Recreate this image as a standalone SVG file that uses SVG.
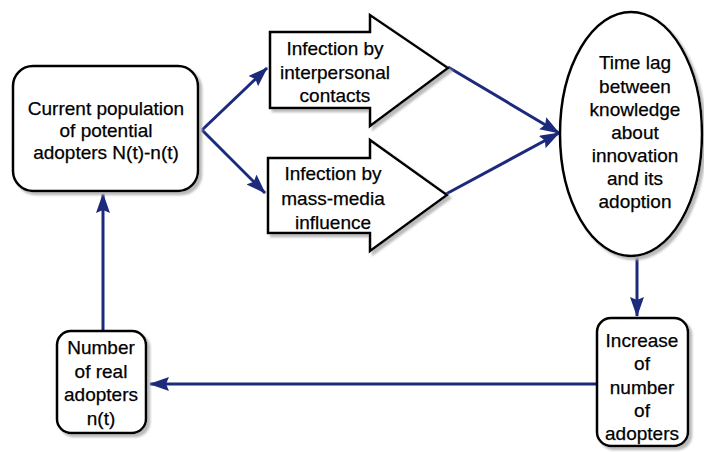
<svg xmlns="http://www.w3.org/2000/svg" width="704" height="452" viewBox="0 0 704 452">
<defs>
<marker id="ah" viewBox="0 0 20 14" refX="19" refY="7" markerWidth="20" markerHeight="14" markerUnits="userSpaceOnUse" orient="auto">
<path d="M0,0 L20,7 L0,14 L3,7 Z" fill="#1c2a7c"/>
</marker>
<filter id="sh" x="-10%" y="-10%" width="130%" height="130%">
<feGaussianBlur in="SourceAlpha" stdDeviation="1.2"/>
<feOffset dx="3" dy="3" result="b"/>
<feColorMatrix in="b" type="matrix" values="0 0 0 0 0.45  0 0 0 0 0.45  0 0 0 0 0.45  0 0 0 0.9 0"/>
<feMerge><feMergeNode/><feMergeNode in="SourceGraphic"/></feMerge>
</filter>
</defs>
<style>
.n{fill:#fff;stroke:#000;stroke-width:2.5;filter:url(#sh)}
.t{font-family:"Liberation Sans",Arial,sans-serif;font-size:19px;fill:#000;stroke:#000;stroke-width:0.25;text-anchor:middle}
.c{fill:none;stroke:#1c2a7c;stroke-width:3;marker-end:url(#ah)}
</style>
<rect width="704" height="452" fill="#fff"/>
<g id="connectors">
<line class="c" x1="202" y1="130" x2="267" y2="68"/>
<line class="c" x1="202" y1="130" x2="265" y2="193"/>
<line class="c" x1="448" y1="67" x2="559" y2="133"/>
<line class="c" x1="446" y1="194" x2="559" y2="133"/>
<line class="c" x1="637" y1="257" x2="637" y2="316"/>
<line class="c" x1="597" y1="384" x2="150" y2="384"/>
<line class="c" x1="103" y1="331" x2="103" y2="194"/>
</g>
<g id="current">
<rect class="n" x="13" y="66" width="185" height="125" rx="20"/>
<text class="t" x="106" y="115">Current population</text>
<text class="t" x="106" y="137">of potential</text>
<text class="t" x="106" y="159">adopters N(t)-n(t)</text>
</g>
<g id="interpersonal">
<polygon class="n" points="270,32 370,32 370,15 448,68 370,126 370,108 270,108"/>
<text class="t" x="335" y="55">Infection by</text>
<text class="t" x="335" y="79">interpersonal</text>
<text class="t" x="335" y="102">contacts</text>
</g>
<g id="massmedia">
<polygon class="n" points="268,158 370,158 370,140 447,195 370,251 370,233 268,233"/>
<text class="t" x="333" y="180">Infection by</text>
<text class="t" x="333" y="205">mass-media</text>
<text class="t" x="333" y="229">influence</text>
</g>
<g id="timelag">
<ellipse class="n" cx="631" cy="134" rx="71" ry="122"/>
<text class="t" x="635" y="69">Time lag</text>
<text class="t" x="635" y="93">between</text>
<text class="t" x="635" y="116">knowledge</text>
<text class="t" x="635" y="139">about</text>
<text class="t" x="635" y="162">innovation</text>
<text class="t" x="635" y="185">and its</text>
<text class="t" x="635" y="208">adoption</text>
</g>
<g id="increase">
<rect class="n" x="597" y="318" width="91" height="128" rx="14"/>
<text class="t" x="642" y="347">Increase</text>
<text class="t" x="642" y="370">of</text>
<text class="t" x="642" y="394">number</text>
<text class="t" x="642" y="417">of</text>
<text class="t" x="642" y="440">adopters</text>
</g>
<g id="real">
<rect class="n" x="57" y="331" width="89" height="102" rx="14"/>
<text class="t" x="101" y="354">Number</text>
<text class="t" x="101" y="378">of real</text>
<text class="t" x="101" y="401">adopters</text>
<text class="t" x="101" y="425">n(t)</text>
</g>
</svg>
